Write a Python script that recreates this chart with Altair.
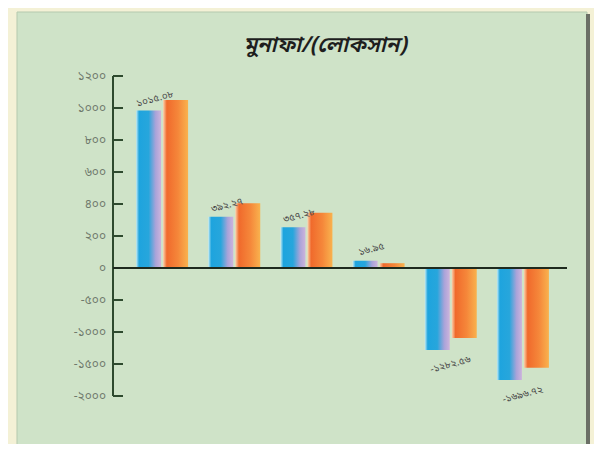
import altair as alt
import pandas as pd

# ---- data ----
categories = ["ক", "খ", "গ", "ঘ", "ঙ", "চ"]
series_a = [985, 320, 255, 45, -1280, -1750]      # blue bars
series_b = [1050, 405, 345, 30, -1095, -1560]     # orange bars
value_labels = ["১০১৫.০৮", "৩৯২.২৭", "৩৫৭.২৮", "১৬.৯৫", "-১২৮২.৫৬", "-১৬৯৬.৭২"]
tick_values = [1200, 1000, 800, 600, 400, 200, 0, -500, -1000, -1500, -2000]
tick_labels = ["১২০০", "১০০০", "৮০০", "৬০০", "৪০০", "২০০", "০", "-৫০০", "-১০০০", "-১৫০০", "-২০০০"]
title_text = "মুনাফা/(লোকসান)"

df = pd.DataFrame({"cat": categories, "a": series_a, "b": series_b, "lab": value_labels})
tick_df = pd.DataFrame({"v": tick_values, "t": tick_labels})

W, H = 454, 320
FONT = "Noto Sans Bengali, Noto Sans, sans-serif"

yscale = alt.Scale(domain=[-2000, 0, 1200], range=[H, 192, 0], nice=False, zero=False)
xscale = alt.Scale(domain=categories, range=[13, 446], paddingInner=0, paddingOuter=0)

blue_grad = alt.Gradient(
    gradient="linear", x1=0, x2=1, y1=0, y2=0,
    stops=[
        alt.GradientStop(color="#c6ecf4", offset=0),
        alt.GradientStop(color="#1ea4de", offset=0.12),
        alt.GradientStop(color="#27a6dc", offset=0.5),
        alt.GradientStop(color="#a9a3d9", offset=0.78),
        alt.GradientStop(color="#cdb4dc", offset=1),
    ],
)
orange_grad = alt.Gradient(
    gradient="linear", x1=0, x2=1, y1=0, y2=0,
    stops=[
        alt.GradientStop(color="#fbd3ae", offset=0),
        alt.GradientStop(color="#f06a2c", offset=0.15),
        alt.GradientStop(color="#f5873a", offset=0.6),
        alt.GradientStop(color="#f9b24e", offset=1),
    ],
)

one = alt.Data(values=[{}])

panel = alt.Chart(one).mark_rect(fill="#cfe3c8", stroke="#b5c9ae", strokeWidth=1).encode(
    x=alt.value(-96), x2=alt.value(474), y=alt.value(-64), y2=alt.value(371)
)
shadow = alt.Chart(one).mark_rect(fill="#6b6f66").encode(
    x=alt.value(473), x2=alt.value(477), y=alt.value(-62), y2=alt.value(371)
)
title = alt.Chart(one).mark_text(
    text=title_text, font=FONT, fontSize=22, fontStyle="italic", fontWeight=600,
    color="#1e1e1e"
).encode(x=alt.value(212), y=alt.value(-31))

base = alt.Chart(df)

bars_a = base.mark_bar(fill=blue_grad, width=25, xOffset=-13.5).encode(
    x=alt.X("cat:N", scale=xscale, axis=None, sort=categories),
    y=alt.Y("a:Q", scale=yscale, axis=None),
    y2=alt.datum(0),
)
bars_b = base.mark_bar(fill=orange_grad, width=25, xOffset=13.5).encode(
    x=alt.X("cat:N", scale=xscale, axis=None, sort=categories),
    y=alt.Y("b:Q", scale=yscale, axis=None),
    y2=alt.datum(0),
)

tick_base = alt.Chart(tick_df)
ytick_marks = tick_base.transform_filter("datum.v != 0").mark_rule(
    color="#2e4a2e", strokeWidth=2
).encode(
    y=alt.Y("v:Q", scale=yscale, axis=None), x=alt.value(0), x2=alt.value(10)
)
ytick_labels = tick_base.mark_text(
    font=FONT, fontSize=12, color="#6f7a6c", align="right", baseline="middle"
).encode(
    y=alt.Y("v:Q", scale=yscale, axis=None), x=alt.value(-7), text="t:N"
)
y_domain = alt.Chart(one).mark_rule(color="#2e4a2e", strokeWidth=2).encode(
    x=alt.value(0),
    y=alt.datum(tick_values[0], scale=yscale, axis=None),
    y2=alt.datum(tick_values[-1]),
)
zero_line = alt.Chart(one).mark_rule(color="#1e2a1e", strokeWidth=2).encode(
    y=alt.datum(0, scale=yscale, axis=None), x=alt.value(0), x2=alt.value(454)
)

pos_labels = base.transform_filter("datum.a >= 0").mark_text(
    font=FONT, fontSize=10, color="#4a4a4a", angle=345, dy=-13, dx=-4
).encode(
    x=alt.X("cat:N", scale=xscale, axis=None, sort=categories),
    y=alt.Y("a:Q", scale=yscale, axis=None), text="lab:N",
)
neg_labels = base.transform_filter("datum.a < 0").mark_text(
    font=FONT, fontSize=10, color="#4a4a4a", angle=345, dy=14, dx=-4
).encode(
    x=alt.X("cat:N", scale=xscale, axis=None, sort=categories),
    y=alt.Y("a:Q", scale=yscale, axis=None), text="lab:N",
)

chart = alt.layer(
    panel, shadow, title, bars_a, bars_b, y_domain, ytick_marks, ytick_labels,
    zero_line, pos_labels, neg_labels
).properties(
    width=W, height=H,
    autosize=alt.AutoSizeParams(type="none"),
    padding={"left": 105, "top": 68, "right": 27, "bottom": 48},
    background="#f4f1d6",
).configure_view(stroke=None)

chart.save("out.html", embed_options={"renderer": "svg", "actions": False})
